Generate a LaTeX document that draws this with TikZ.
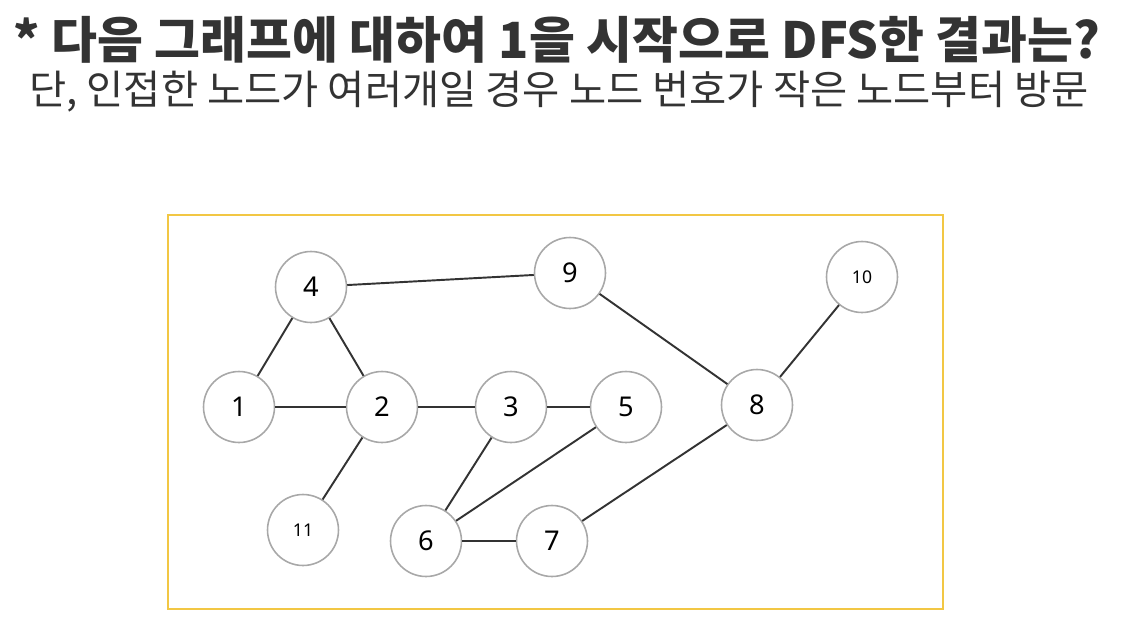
\documentclass[tikz,border=0pt]{standalone}
\usepackage{fontspec}
\setmainfont{Noto Sans}
\newfontfamily\cjk{Noto Sans CJK KR}
\usepackage{tikz}
\usetikzlibrary{positioning}
\definecolor{framey}{HTML}{F2C744}
\definecolor{ringgray}{HTML}{A8A8A8}
\definecolor{edgegray}{HTML}{333333}

\begin{document}
\begin{tikzpicture}[x=0.02cm,y=-0.02cm,
  vtx/.style={circle,draw=ringgray,line width=0.9pt,fill=white,
              minimum size=1.42cm,inner sep=0pt,font=\fontsize{15.5}{15.5}\selectfont},
  smallvtx/.style={vtx,font=\fontsize{10}{10}\selectfont},
  edge/.style={draw=edgegray,line width=1.1pt},
  title/.style={font=\cjk\bfseries\fontsize{28.4}{28.4}\selectfont,text=edgegray},
  subtitle/.style={font=\cjk\fontsize{23}{23}\selectfont,text=edgegray}
]
\useasboundingbox (0,0) rectangle (1137,623);

% question
\node[title] (q) at (557,40) {* 다음 그래프에 대하여 1을 시작으로 DFS한 결과는?};
\node[subtitle] (cond) at (559,92) {단, 인접한 노드가 여러개일 경우 노드 번호가 작은 노드부터 방문};

% frame
\draw[framey,line width=1.6pt] (168,215) rectangle (943,609);

% vertices
\node[vtx] (n4) at (311,287) {4};
\node[vtx] (n9) at (570,273) {9};
\node[smallvtx] (n10) at (862,277) {10};
\node[vtx] (n1) at (239,407) {1};
\node[vtx] (n2) at (382,407) {2};
\node[vtx] (n3) at (511,407) {3};
\node[vtx] (n5) at (626,407) {5};
\node[vtx] (n8) at (757,405) {8};
\node[smallvtx] (n11) at (303,530) {11};
\node[vtx] (n6) at (426,541) {6};
\node[vtx] (n7) at (552,541) {7};

% edges
\draw[edge] (n4) -- (n9);
\draw[edge] (n4) -- (n1);
\draw[edge] (n4) -- (n2);
\draw[edge] (n1) -- (n2);
\draw[edge] (n2) -- (n3);
\draw[edge] (n2) -- (n11);
\draw[edge] (n3) -- (n5);
\draw[edge] (n3) -- (n6);
\draw[edge] (n5) -- (n6);
\draw[edge] (n6) -- (n7);
\draw[edge] (n7) -- (n8);
\draw[edge] (n9) -- (n8);
\draw[edge] (n8) -- (n10);
\end{tikzpicture}
\end{document}
